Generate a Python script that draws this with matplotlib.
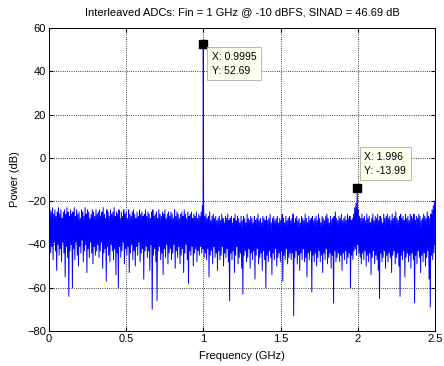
import numpy as np
import matplotlib.pyplot as plt

plt.rcParams['font.family'] = ['Liberation Sans', 'DejaVu Sans']

# FFT noise floor (dB): upper and lower bins alternate over 0..2.5 GHz
noise_hi_db = [
    -22, -24, -25, -23, -26, -24, -27, -25, -23, -26, -24, -28, -25, -24, -26, -23, -25, -27, -24, -26,
    -25, -23, -27, -24, -26, -25, -28, -24, -25, -27, -23, -26, -24, -25, -28, -26, -24, -25, -27, -24,
    -26, -25, -24, -27, -25, -23, -26, -28, -24, -25, -27, -24, -26, -25, -23, -27, -25, -26, -24, -28,
    -25, -27, -24, -26, -25, -28, -24, -26, -27, -25, -24, -26, -28, -25, -27, -24, -26, -25, -27, -26,
    -24, -27, -25, -26, -28, -25, -24, -27, -26, -25, -28, -24, -26, -27, -25, -26, -24, -28, -26, -25,
    -27, -25, -26, -28, -24, -27, -25, -26, -28, -26, -25, -27, -24, -26, -28, -25, -27, -26, -25, -28,
    -26, -27, -25, -28, -26, -27, -25, -22, -20, -27, -26, -28, -27, -25, -29, -27, -26, -28, -27, -29,
    -28, -27, -29, -26, -28, -30, -27, -28, -26, -29, -28, -27, -30, -28, -26, -29, -27, -28, -30, -27,
    -29, -27, -28, -30, -26, -28, -29, -27, -28, -30, -27, -29, -28, -26, -29, -28, -30, -27, -28, -29,
    -27, -29, -28, -26, -30, -28, -27, -29, -28, -27, -30, -28, -29, -26, -28, -30, -27, -29, -28, -27,
    -29, -28, -26, -30, -28, -27, -29, -28, -30, -27, -28, -29, -26, -28, -30, -27, -29, -28, -27, -29,
    -28, -27, -29, -26, -28, -30, -27, -28, -29, -27, -26, -28, -30, -27, -29, -28, -27, -25, -28, -29,
    -27, -28, -26, -29, -28, -27, -29, -26, -28, -27, -29, -28, -26, -23, -21, -20, -24, -27, -28, -26,
    -28, -27, -29, -26, -28, -27, -30, -28, -26, -29, -27, -28, -26, -29, -27, -28, -30, -26, -28, -27,
    -26, -28, -27, -29, -26, -28, -27, -25, -28, -29, -27, -26, -28, -27, -29, -26, -28, -27, -29, -26,
    -27, -28, -26, -29, -27, -28, -26, -27, -29, -28, -26, -27, -28, -25, -27, -28, -26, -24, -22, -20,
]
noise_lo_db = [
    -38, -44, -41, -47, -39, -43, -52, -40, -45, -42, -48, -39, -44, -55, -41, -46, -64, -43, -40, -60,
    -42, -47, -39, -45, -50, -41, -44, -38, -48, -43, -40, -53, -42, -46, -39, -44, -49, -41, -45, -43,
    -40, -46, -43, -39, -51, -44, -42, -57, -41, -45, -48, -40, -43, -47, -42, -54, -44, -60, -41, -46,
    -43, -39, -49, -42, -45, -41, -53, -44, -40, -47, -43, -50, -41, -45, -39, -48, -44, -42, -56, -43,
    -41, -46, -43, -52, -40, -70, -45, -42, -48, -66, -43, -41, -47, -44, -54, -42, -46, -40, -49, -44,
    -42, -47, -44, -40, -51, -43, -46, -41, -49, -45, -42, -53, -44, -40, -47, -58, -43, -45, -41, -50,
    -44, -42, -48, -43, -45, -41, -44, -42, -46, -44, -47, -42, -55, -45, -43, -49, -41, -46, -44, -52,
    -43, -47, -45, -41, -50, -44, -46, -42, -48, -66, -44, -47, -43, -53, -45, -41, -49, -46, -44, -51,
    -63, -45, -43, -48, -46, -42, -51, -44, -47, -43, -56, -45, -42, -49, -46, -44, -52, -43, -47, -60,
    -45, -48, -43, -46, -54, -44, -47, -42, -50, -46, -44, -48, -43, -57, -45, -47, -42, -49, -46, -44,
    -47, -44, -73, -46, -43, -49, -45, -52, -44, -47, -42, -48, -46, -55, -44, -47, -43, -62, -45, -48,
    -44, -50, -46, -43, -48, -45, -53, -44, -47, -42, -49, -46, -44, -51, -45, -67, -43, -48, -46, -44,
    -48, -45, -52, -44, -47, -43, -49, -46, -44, -60, -45, -47, -43, -42, -45, -40, -44, -46, -49, -44,
    -47, -43, -50, -45, -48, -44, -54, -46, -43, -49, -45, -47, -52, -65, -44, -48, -46, -43, -51, -45,
    -48, -44, -46, -53, -45, -43, -49, -46, -44, -50, -64, -45, -47, -43, -55, -46, -44, -48, -45, -51,
    -44, -47, -67, -45, -49, -43, -46, -53, -45, -48, -44, -50, -46, -43, -56, -69, -45, -47, -44, -40,
]

# fundamental and the interleaving spur (data tips)
tone_ghz = [0.9995, 1.996]
tone_db = [52.69, -13.99]
tip_text = ['X: 0.9995\nY: 52.69', 'X: 1.996\nY: -13.99']

noise = np.empty(len(noise_hi_db) + len(noise_lo_db))
noise[0::2] = noise_hi_db
noise[1::2] = noise_lo_db
freq = np.linspace(0, 2.5, len(noise))

f_all = np.concatenate([freq, tone_ghz])
p_all = np.concatenate([noise, tone_db])
order = np.argsort(f_all)

fig = plt.figure(figsize=(4.44, 3.66), dpi=100)
ax = fig.add_axes([0.110, 0.0956, 0.870, 0.828])

ax.plot(f_all[order], p_all[order], color='#0000ff', lw=0.7)
ax.plot(tone_ghz, tone_db, 's', color='k', ms=5.5)

ax.set_xlim(0, 2.5)
ax.set_ylim(-80, 60)
ax.set_xticks([0, 0.5, 1, 1.5, 2, 2.5])
ax.set_xticklabels(['0', '0.5', '1', '1.5', '2', '2.5'])
ax.set_yticks(range(-80, 61, 20))
ax.grid(True, color='k', ls=':', lw=0.6)
ax.tick_params(direction='in', top=True, right=True, length=3, labelsize=8, pad=2)
for s in ax.spines.values():
    s.set_linewidth(0.7)

ax.set_title('Interleaved ADCs: Fin = 1 GHz @ -10 dBFS, SINAD = 46.69 dB', fontsize=8, pad=9.5)
ax.set_xlabel('Frequency (GHz)', fontsize=8, labelpad=5.5)
ax.set_ylabel('Power (dB)', fontsize=8, labelpad=5)

tip_box = dict(boxstyle='square,pad=0.45', fc='#ffffee', ec='#b8b8a8', lw=0.7)
ax.annotate(tip_text[0], xy=(tone_ghz[0], tone_db[0]), xytext=(6, -6),
            textcoords='offset points', ha='left', va='top', fontsize=7.5,
            linespacing=1.45, bbox=tip_box)
ax.annotate(tip_text[1], xy=(tone_ghz[1], tone_db[1]), xytext=(5, 9),
            textcoords='offset points', ha='left', va='bottom', fontsize=7.5,
            linespacing=1.45, bbox=tip_box)

fig.savefig('out.png', dpi=100)
